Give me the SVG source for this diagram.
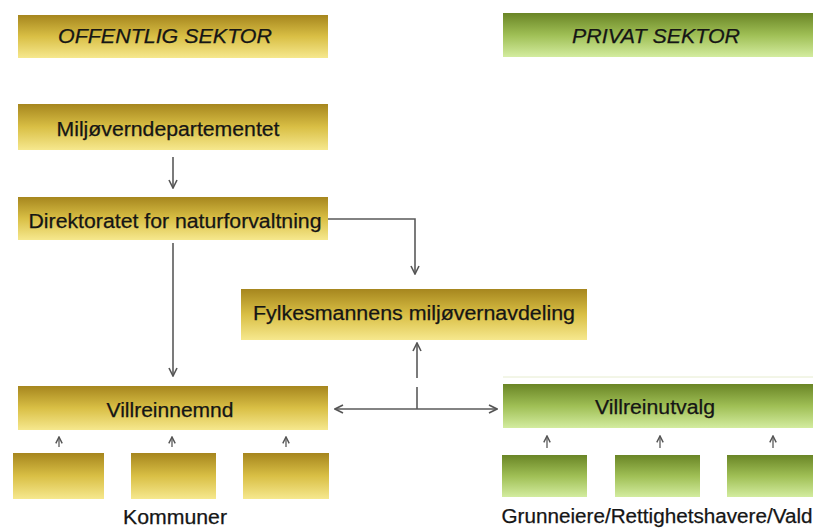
<svg xmlns="http://www.w3.org/2000/svg" width="823" height="528" viewBox="0 0 823 528">
<defs>
<linearGradient id="gold" x1="0" y1="0" x2="0" y2="1">
<stop offset="0" stop-color="#a6861e"/>
<stop offset="0.5" stop-color="#d9bf45"/>
<stop offset="1" stop-color="#f6e88e"/>
</linearGradient>
<linearGradient id="green" x1="0" y1="0" x2="0" y2="1">
<stop offset="0" stop-color="#6a8526"/>
<stop offset="0.5" stop-color="#9fbf55"/>
<stop offset="1" stop-color="#d3ec9f"/>
</linearGradient>
<marker id="ah" viewBox="0 0 10 10" refX="9" refY="5" markerWidth="10" markerHeight="10" markerUnits="userSpaceOnUse" orient="auto-start-reverse">
<path d="M1,1 L9,5 L1,9" fill="none" stroke="#555" stroke-width="1.6"/>
</marker>
<marker id="sah" viewBox="0 0 10 10" refX="9" refY="5" markerWidth="8" markerHeight="8" markerUnits="userSpaceOnUse" orient="auto">
<path d="M1,1 L9,5 L1,9" fill="none" stroke="#555" stroke-width="1.8"/>
</marker>
</defs>
<style>
.g{fill:url(#gold)}
.v{fill:url(#green)}
.t{font-family:"Liberation Sans",Arial,sans-serif;font-size:20px;fill:#151515;stroke:#151515;stroke-width:0.25;text-anchor:middle}
.h{font-style:italic}
.c{stroke:#5a5a5a;stroke-width:1.6;fill:none}
.s{stroke:#5a5a5a;stroke-width:1.3;fill:none}
</style>
<rect width="823" height="528" fill="#fff"/>
<g id="offentlig"><rect class="g" x="18" y="15" width="310" height="43"/><text class="t h" x="165" y="43" textLength="214" lengthAdjust="spacingAndGlyphs">OFFENTLIG SEKTOR</text></g>
<g id="privat"><rect class="v" x="503" y="13" width="310" height="44"/><text class="t h" x="656" y="43" textLength="168" lengthAdjust="spacingAndGlyphs">PRIVAT SEKTOR</text></g>
<g id="miljo"><rect class="g" x="18" y="104" width="310" height="46"/><text class="t" x="168" y="136" textLength="223" lengthAdjust="spacingAndGlyphs">Miljøverndepartementet</text></g>
<g id="direktoratet"><rect class="g" x="18" y="197" width="310" height="43"/><text class="t" x="175" y="228" textLength="293" lengthAdjust="spacingAndGlyphs">Direktoratet for naturforvaltning</text></g>
<g id="fylkesmannen"><rect class="g" x="241" y="289" width="346" height="51"/><text class="t" x="414" y="320" textLength="322" lengthAdjust="spacingAndGlyphs">Fylkesmannens miljøvernavdeling</text></g>
<g id="villreinnemnd"><rect class="g" x="18" y="386" width="310" height="44"/><text class="t" x="170" y="417" textLength="127" lengthAdjust="spacingAndGlyphs">Villreinnemnd</text></g>
<g id="villreinutvalg"><line x1="503" y1="377" x2="813" y2="377" stroke="#e6eccf" stroke-width="1"/><rect class="v" x="503" y="384" width="310" height="44"/><text class="t" x="655" y="414" textLength="120" lengthAdjust="spacingAndGlyphs">Villreinutvalg</text></g>
<g id="kommune1"><rect class="g" x="13" y="453" width="91" height="46"/></g>
<g id="kommune2"><rect class="g" x="131" y="453" width="85" height="46"/></g>
<g id="kommune3"><rect class="g" x="243" y="453" width="86" height="46"/></g>
<g id="grunn1"><rect class="v" x="502" y="455" width="85" height="42"/></g>
<g id="grunn2"><rect class="v" x="615" y="455" width="85" height="42"/></g>
<g id="grunn3"><rect class="v" x="727" y="455" width="86" height="42"/></g>
<text class="t" x="175" y="524" textLength="104" lengthAdjust="spacingAndGlyphs">Kommuner</text>
<text class="t" x="657" y="523" textLength="311" lengthAdjust="spacingAndGlyphs">Grunneiere/Rettighetshavere/Vald</text>
<g id="connectors">
<line class="c" x1="173" y1="157" x2="173" y2="188" marker-end="url(#ah)"/>
<polyline class="c" points="328,219 415,219 415,274" marker-end="url(#ah)"/>
<line class="c" x1="173" y1="243" x2="173" y2="376" marker-end="url(#ah)"/>
<line class="c" x1="417" y1="378" x2="417" y2="343" marker-end="url(#ah)"/>
<line class="c" x1="417" y1="387" x2="417" y2="409"/>
<line class="c" x1="335" y1="409" x2="497" y2="409" marker-start="url(#ah)" marker-end="url(#ah)"/>
<line class="s" x1="59" y1="447" x2="59" y2="437" marker-end="url(#sah)"/>
<line class="s" x1="172" y1="447" x2="172" y2="437" marker-end="url(#sah)"/>
<line class="s" x1="286" y1="447" x2="286" y2="437" marker-end="url(#sah)"/>
<line class="s" x1="547" y1="448" x2="547" y2="436" marker-end="url(#sah)"/>
<line class="s" x1="660" y1="448" x2="660" y2="436" marker-end="url(#sah)"/>
<line class="s" x1="773" y1="448" x2="773" y2="436" marker-end="url(#sah)"/>
</g>
</svg>
